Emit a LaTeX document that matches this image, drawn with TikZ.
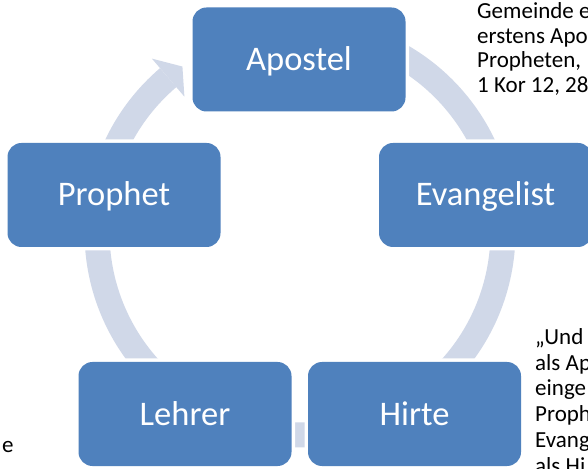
\documentclass[tikz,border=0pt]{standalone}
\usepackage{fontspec}
\setmainfont{Carlito}
\definecolor{boxblue}{HTML}{4F81BD}
\definecolor{ringcol}{HTML}{D0D8E8}
\begin{document}
\begin{tikzpicture}[x=1pt,y=1pt,
  cbox/.style={fill=boxblue, rounded corners=14pt, minimum width=213pt, minimum height=104pt,
    inner sep=0pt, text=white, font=\fontsize{34.5}{40}\selectfont, text height=22pt, text depth=0pt,
    preaction={draw=white, line width=7pt}},
  side/.style={anchor=base west, inner sep=0pt, font=\fontsize{23}{28}\selectfont, text=black}]
\useasboundingbox (0,0) rectangle (588,468);
\clip (0,0) rectangle (588,468);
\fill[white] (0,0) rectangle (588,468);
% ring arrow
\coordinate (c) at (300,236);
\draw[ringcol, line width=25pt] ([shift={(130.5:203)}]c) arc[start angle=130.5, end angle=460, radius=203];
\fill[ringcol] ([shift={(130.5:228)}]c) -- ([shift={(125.4:203)}]c) -- ([shift={(130.5:178)}]c) -- cycle;
% boxes
\node[cbox] (apostel) at (299,408.5) {Apostel};
\node[cbox] (evangelist) at (485.5,273) {Evangelist};
\node[cbox] (prophet) at (114,273) {Prophet};
\node[cbox] (lehrer) at (185,54) {Lehrer};
\node[cbox] (hirte) at (414.5,54) {Hirte};
% side texts
\node[side] (a1) at (477,449) {Gemeinde e};
\node[side] (a2) at (477,424.5) {erstens Apo};
\node[side] (a3) at (477,400) {Propheten,};
\node[side] (a4) at (477,375.5) {1 Kor 12, 28};
\node[side] (b1) at (535,123) {„Und};
\node[side] (b2) at (535,97.5) {als Ap};
\node[side] (b3) at (535,72) {einge};
\node[side] (b4) at (535,46.5) {Proph};
\node[side] (b5) at (535,21) {Evang};
\node[side] (b6) at (535,-5) {als Hi};
\node[side] (c1) at (2,16) {e};
\end{tikzpicture}
\end{document}
